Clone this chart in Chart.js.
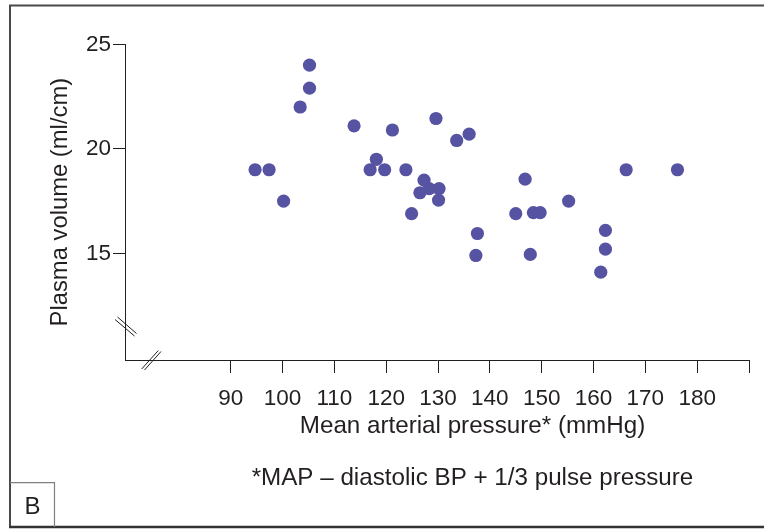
<!DOCTYPE html>
<html>
<head>
<meta charset="utf-8">
<script src="https://cdn.jsdelivr.net/npm/chart.js@4/dist/chart.umd.min.js"></script>
<style>
  html, body { margin: 0; padding: 0; background: #fff; }
  canvas { display: block; }
</style>
</head>
<body>
<canvas id="mapChart" width="764" height="530"></canvas>
<script>
// mean arterial pressure (mmHg) vs plasma volume (ml/cm)
var mapValues = [94.7, 97.4, 100.2, 103.4, 105.2, 105.2, 113.8, 116.9, 118.1, 119.7,
                 121.2, 123.8, 124.9, 126.5, 127.3, 128.3, 130.2, 130.1, 129.6, 133.6,
                 136.0, 137.6, 137.3, 145.0, 146.8, 147.8, 148.4, 149.7, 155.2, 162.3,
                 162.3, 161.4, 166.3, 176.2];
var plasmaVolume = [19.0, 19.0, 17.5, 22.0, 22.9, 24.0, 21.1, 19.0, 19.5, 19.0,
                    20.9, 19.0, 16.9, 17.9, 18.5, 18.1, 18.1, 17.55, 21.45, 20.4,
                    20.7, 15.95, 14.9, 16.9, 18.55, 14.95, 16.95, 16.95, 17.5, 16.1,
                    15.2, 14.1, 19.0, 19.0];
var xTicks = [90, 100, 110, 120, 130, 140, 150, 160, 170, 180, 190];
var yTicks = [15, 20, 25];

var xTitle = 'Mean arterial pressure* (mmHg)';
var yTitle = 'Plasma volume (ml/cm)';
var footnote = '*MAP \u2013 diastolic BP + 1/3 pulse pressure';
var panelLetter = 'B';

var ink = '#231f20';
var fontFamily = '"Liberation Sans", Arial, Helvetica, sans-serif';

var points = [];
for (var i = 0; i < mapValues.length; i++) {
    points.push({x: mapValues[i], y: plasmaVolume[i]});
}

// frame, panel letter, x title, footnote and the axis break marks
var decorations = {
    id: 'decorations',
    afterDraw: function (chart) {
        var ctx = chart.ctx;
        var area = chart.chartArea;
        ctx.save();

        // outer frame (left, top, bottom)
        ctx.strokeStyle = '#4a4a4a';
        ctx.lineWidth = 2;
        ctx.beginPath();
        ctx.moveTo(764, 5.5);
        ctx.lineTo(10, 5.5);
        ctx.lineTo(10, 527);
        ctx.stroke();
        ctx.strokeStyle = '#333';
        ctx.lineWidth = 2.5;
        ctx.beginPath();
        ctx.moveTo(9, 527);
        ctx.lineTo(764, 527);
        ctx.stroke();

        // panel letter box
        ctx.strokeStyle = '#808080';
        ctx.lineWidth = 1.2;
        ctx.beginPath();
        ctx.moveTo(10, 482.7);
        ctx.lineTo(54.5, 482.7);
        ctx.lineTo(54.5, 527);
        ctx.stroke();

        ctx.fillStyle = ink;
        ctx.font = '24px ' + fontFamily;
        ctx.textBaseline = 'alphabetic';
        ctx.textAlign = 'center';
        ctx.fillText(panelLetter, 32.5, 514);

        // x axis title sits off-centre in the original, so it is placed here
        ctx.font = '24.2px ' + fontFamily;
        ctx.fillText(xTitle, 472.5, 432.7);

        // footnote
        ctx.fillText(footnote, 472.5, 485);

        // axis breaks
        ctx.strokeStyle = ink;
        ctx.lineWidth = 1;
        var yb = area.bottom - 36;
        ctx.beginPath();
        ctx.moveTo(area.left - 10, yb - 4.5);
        ctx.lineTo(area.left + 9.5, yb + 12);
        ctx.moveTo(area.left - 7.5, yb - 7);
        ctx.lineTo(area.left + 11.5, yb + 9.5);
        var xb = area.left + 25;
        ctx.moveTo(xb - 8.3, area.bottom + 9);
        ctx.lineTo(xb + 8.3, area.bottom - 9.5);
        ctx.moveTo(xb - 5.5, area.bottom + 10);
        ctx.lineTo(xb + 11, area.bottom - 8.5);
        ctx.stroke();

        ctx.restore();
    }
};

new Chart(document.getElementById('mapChart').getContext('2d'), {
    type: 'scatter',
    data: {
        datasets: [{
            data: points,
            backgroundColor: '#5653a2',
            borderWidth: 0,
            pointRadius: 6.6,
            pointHoverRadius: 6.6
        }]
    },
    options: {
        responsive: false,
        animation: false,
        devicePixelRatio: 1,
        layout: {
            padding: {left: 0, top: 44.3, right: 15, bottom: 0}
        },
        plugins: {
            legend: {display: false},
            tooltip: {enabled: false}
        },
        scales: {
            x: {
                type: 'linear',
                min: 69.6,
                max: 190,
                afterBuildTicks: function (scale) {
                    scale.ticks = xTicks.map(function (v) { return {value: v}; });
                },
                afterFit: function (scale) {
                    scale.height = 170;
                },
                grid: {
                    drawOnChartArea: false,
                    drawTicks: true,
                    tickLength: 13,
                    color: ink,
                    lineWidth: 1
                },
                border: {display: true, color: ink, width: 1},
                ticks: {
                    autoSkip: false,
                    maxRotation: 0,
                    padding: 12,
                    color: ink,
                    font: {family: fontFamily, size: 22.5},
                    callback: function (value) {
                        return value === 190 ? '' : value;
                    }
                },
                title: {display: false}
            },
            y: {
                type: 'linear',
                min: 9.9,
                max: 25,
                afterBuildTicks: function (scale) {
                    scale.ticks = yTicks.map(function (v) { return {value: v}; });
                },
                afterFit: function (scale) {
                    scale.width = 125;
                },
                grid: {
                    drawOnChartArea: false,
                    drawTicks: true,
                    tickLength: 12,
                    color: ink,
                    lineWidth: 1
                },
                border: {display: true, color: ink, width: 1},
                ticks: {
                    padding: 2,
                    color: ink,
                    font: {family: fontFamily, size: 22.5}
                },
                title: {
                    display: true,
                    text: yTitle,
                    color: ink,
                    font: {family: fontFamily, size: 23.8},
                    padding: {top: 46, bottom: 0}
                }
            }
        }
    },
    plugins: [decorations]
});
</script>
</body>
</html>
